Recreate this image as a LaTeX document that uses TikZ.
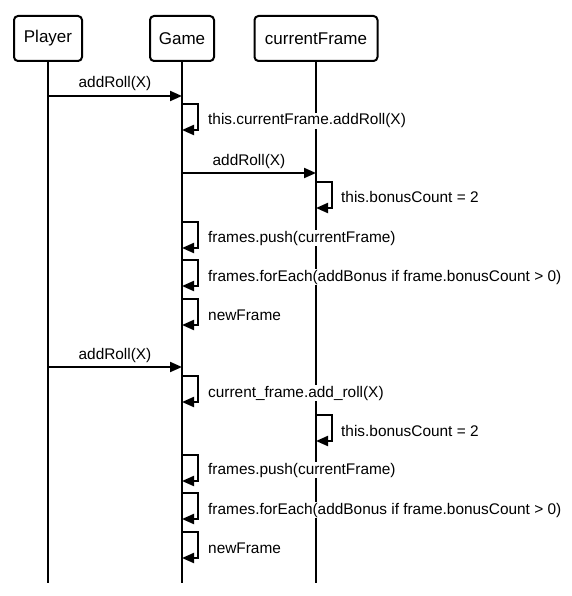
\documentclass[tikz,border=0pt]{standalone}
\usepackage{fontspec}
\setmainfont{Liberation Sans}
\usetikzlibrary{arrows.meta}

\begin{document}
\begin{tikzpicture}[x=1pt, y=-1pt,
    actor/.style={draw, rounded corners=4pt, line width=2pt, minimum height=45pt,
      inner sep=0pt, font=\fontsize{17}{20}\selectfont},
    life/.style={line width=2pt},
    call/.style={line width=2pt, -{Triangle[length=12pt,width=10pt]}},
    lbl/.style={fill=white, inner sep=1pt, text height=11pt, text depth=3pt,
      font=\fontsize{15.4}{18}\selectfont}]
  \useasboundingbox (0,0) rectangle (571,596);

  \node[actor, minimum width=68pt] (player) at (48,38.5) {Player};
  \node[actor, minimum width=64pt] (game) at (182,38.5) {Game};
  \node[actor, minimum width=123pt] (frame) at (316,38.5) {currentFrame};

  \coordinate (player end) at (48,583);
  \coordinate (game end) at (182,583);
  \coordinate (frame end) at (316,583);

  \draw [life] (player) -- (player end);
  \draw [life] (game) -- (game end);
  \draw [life] (frame) -- (frame end);

  % first roll
  \coordinate (p1) at (48,96);
  \coordinate (g1) at (182,96);
  \draw [call] (p1) -- (g1);
  \node[lbl] (m1) at (115,84) {addRoll(X)};

  \coordinate (g2a) at (182,104);
  \coordinate (g2b) at (182,130);
  \draw [call] (g2a) -- ++(16,0) |- (g2b);
  \node[lbl, anchor=west] (m2) at (207,121) {this.currentFrame.addRoll(X)};

  \coordinate (g3) at (182,173);
  \coordinate (f3) at (316,173);
  \draw [call] (g3) -- (f3);
  \node[lbl] (m3) at (249,161) {addRoll(X)};

  \coordinate (f4a) at (316,182);
  \coordinate (f4b) at (316,208);
  \draw [call] (f4a) -- ++(16,0) |- (f4b);
  \node[lbl, anchor=west] (m4) at (340,198) {this.bonusCount = 2};

  \coordinate (g5a) at (182,222);
  \coordinate (g5b) at (182,248);
  \draw [call] (g5a) -- ++(16,0) |- (g5b);
  \node[lbl, anchor=west] (m5) at (207,238) {frames.push(currentFrame)};

  \coordinate (g6a) at (182,260);
  \coordinate (g6b) at (182,286);
  \draw [call] (g6a) -- ++(16,0) |- (g6b);
  \node[lbl, anchor=west] (m6) at (207,277) {frames.forEach(addBonus if frame.bonusCount > 0)};

  \coordinate (g7a) at (182,299);
  \coordinate (g7b) at (182,325);
  \draw [call] (g7a) -- ++(16,0) |- (g7b);
  \node[lbl, anchor=west] (m7) at (207,316) {newFrame};

  % second roll
  \coordinate (p8) at (48,367);
  \coordinate (g8) at (182,367);
  \draw [call] (p8) -- (g8);
  \node[lbl] (m8) at (115,355) {addRoll(X)};

  \coordinate (g9a) at (182,376);
  \coordinate (g9b) at (182,402);
  \draw [call] (g9a) -- ++(16,0) |- (g9b);
  \node[lbl, anchor=west] (m9) at (207,393) {current\_frame.add\_roll(X)};

  \coordinate (f10a) at (316,415);
  \coordinate (f10b) at (316,441);
  \draw [call] (f10a) -- ++(16,0) |- (f10b);
  \node[lbl, anchor=west] (m10) at (340,432) {this.bonusCount = 2};

  \coordinate (g11a) at (182,455);
  \coordinate (g11b) at (182,481);
  \draw [call] (g11a) -- ++(16,0) |- (g11b);
  \node[lbl, anchor=west] (m11) at (207,470) {frames.push(currentFrame)};

  \coordinate (g12a) at (182,493);
  \coordinate (g12b) at (182,519);
  \draw [call] (g12a) -- ++(16,0) |- (g12b);
  \node[lbl, anchor=west] (m12) at (207,510) {frames.forEach(addBonus if frame.bonusCount > 0)};

  \coordinate (g13a) at (182,532);
  \coordinate (g13b) at (182,558);
  \draw [call] (g13a) -- ++(16,0) |- (g13b);
  \node[lbl, anchor=west] (m13) at (207,549) {newFrame};
\end{tikzpicture}
\end{document}
